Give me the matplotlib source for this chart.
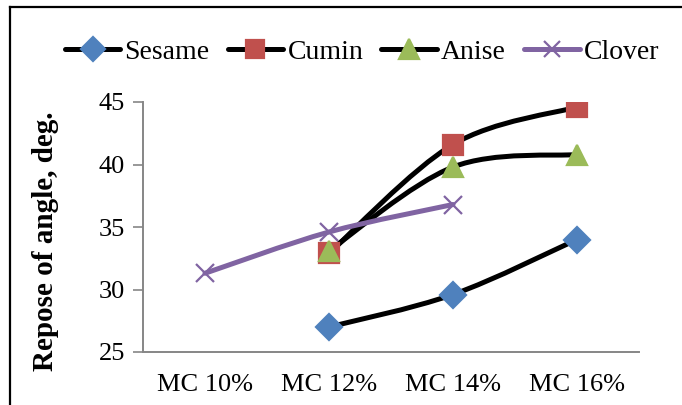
import numpy as np
import matplotlib.pyplot as plt
from matplotlib.path import Path
from matplotlib.patches import PathPatch
from matplotlib.lines import Line2D

plt.rcParams['font.family'] = ['Liberation Serif', 'DejaVu Serif']

# moisture content levels and repose angles (deg.)
categories = ['MC 10%', 'MC 12%', 'MC 14%', 'MC 16%']
sesame = [np.nan, 27.0, 29.6, 34.0]
cumin = [np.nan, 32.9, 41.6, 44.6]
anise = [np.nan, 33.1, 39.8, 40.8]
clover = [31.3, 34.6, 36.8, np.nan]


def smooth_path(xs, ys):
    # Catmull-Rom style bezier through the points (like "smoothed line")
    pts = [(x, y) for x, y in zip(xs, ys) if not np.isnan(y)]
    pts = np.array(pts, dtype=float)
    n = len(pts)
    verts = [pts[0]]
    codes = [Path.MOVETO]
    for i in range(n - 1):
        p0 = pts[i - 1] if i > 0 else pts[i]
        p1 = pts[i]
        p2 = pts[i + 1]
        p3 = pts[i + 2] if i + 2 < n else pts[i + 1]
        c1 = p1 + (p2 - p0) / 6
        c2 = p2 - (p3 - p1) / 6
        verts += [c1, c2, p2]
        codes += [Path.CURVE4] * 3
    return Path(verts, codes)


fig = plt.figure(figsize=(6.82, 4.05), dpi=100)
ax = fig.add_axes([143 / 682, 1 - 352 / 405, (639 - 143) / 682, 250 / 405])

x = np.arange(len(categories)) + 0.5

series = [
    ('Sesame', sesame, 'black', 'D', '#4F81BD', 13),
    ('Cumin', cumin, 'black', 's', '#C0504D', 14),
    ('Anise', anise, 'black', '^', '#9BBB59', 15),
    ('Clover', clover, '#8064A2', 'x', '#8064A2', 13),
]

handles = []
for name, vals, lc, mk, mc, ms in series:
    ax.add_patch(PathPatch(smooth_path(x, vals), fill=False, ec=lc, lw=3.6,
                           capstyle='round', joinstyle='round', zorder=2))
    ax.plot(x, vals, ls='none', marker=mk, ms=ms, mfc=mc, mec=mc, mew=1.6,
            zorder=3)
    handles.append(Line2D([], [], color=lc, lw=3.6, marker=mk, ms=ms - 1,
                          mfc=mc, mec=mc, mew=1.6, solid_capstyle='round'))

ax.set_xlim(0, 4)
ax.set_ylim(25, 45)
ax.set_yticks([25, 30, 35, 40, 45])
ax.set_xticks(x)
ax.set_xticklabels(categories)
ax.tick_params(axis='x', length=0, labelsize=19, pad=16)
ax.tick_params(axis='y', length=7, width=1.2, color='#868686', labelsize=19, pad=6)
for s in ['top', 'right']:
    ax.spines[s].set_visible(False)
for s in ['left', 'bottom']:
    ax.spines[s].set_color('#868686')
    ax.spines[s].set_linewidth(1.4)

fig.text(46 / 682, 1 - 241 / 405, 'Repose of angle, deg.', rotation=90,
         fontsize=21, fontweight='bold', ha='center', va='center')

fig.legend(handles, [s[0] for s in series], loc='center',
           bbox_to_anchor=(362 / 682, 1 - 52 / 405), ncol=4, frameon=False,
           fontsize=20, handlelength=2.0, handletextpad=0.15, columnspacing=0.65)

# chart border
fig.add_artist(Line2D([10 / 682, 10 / 682], [0, 1 - 7 / 405], color='black', lw=1.6))
fig.add_artist(Line2D([10 / 682, 1], [1 - 7 / 405, 1 - 7 / 405], color='black', lw=1.6))

fig.savefig('out.png', dpi=100)
